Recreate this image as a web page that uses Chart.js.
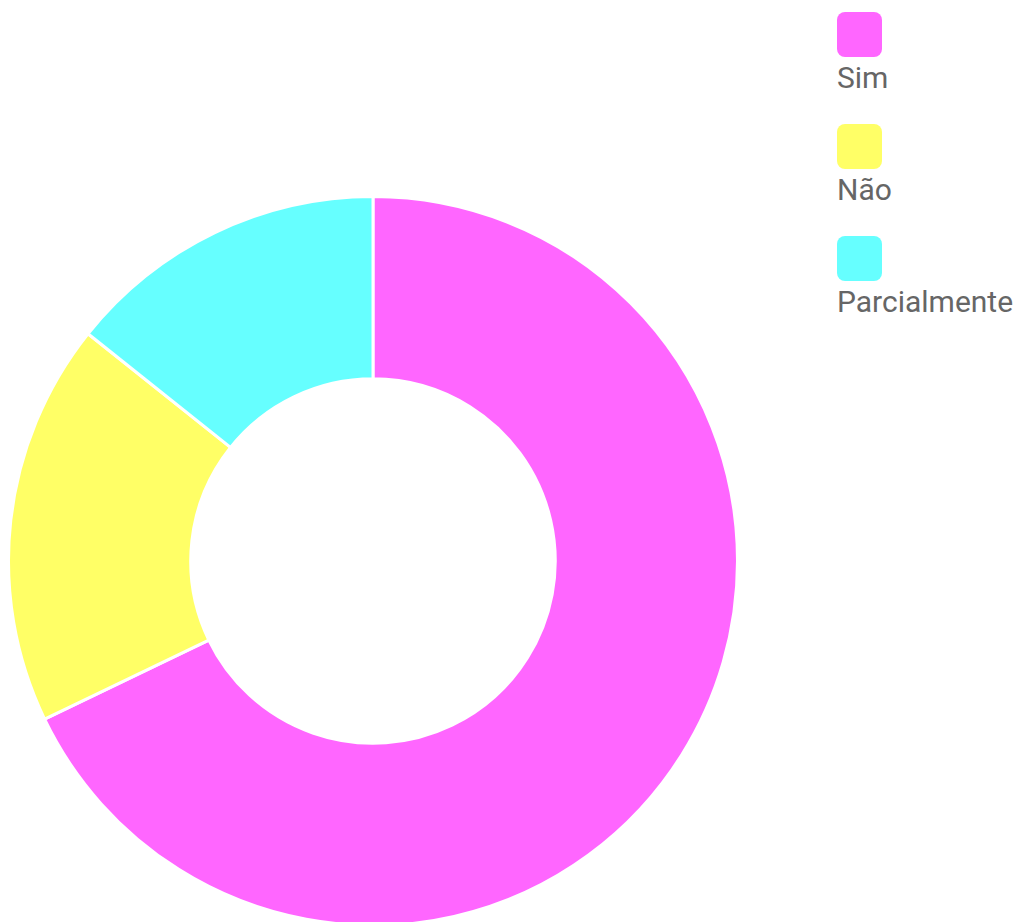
<!DOCTYPE html>
<html>
<head>
<meta charset="utf-8">
<script src="https://cdn.jsdelivr.net/npm/chart.js@4"></script>
<style>
  html, body { margin: 0; padding: 0; background: #fff; overflow: hidden; width: 1023px; height: 922px; }
  #wrap { position: absolute; left: 7px; top: 195px; width: 732px; height: 732px; }
  #legend { position: absolute; left: 837px; top: 12px; font-family: Roboto, "Noto Sans", sans-serif; color: #666; font-size: 30px; }
  .item { height: 112px; }
  .box { width: 45px; height: 45px; border-radius: 8px; }
  .lbl { margin-top: 6px; line-height: 30px; white-space: nowrap; }
</style>
</head>
<body>
<div id="wrap"><canvas id="c"></canvas></div>
<div id="legend"></div>
<script>
const categories = ["Sim", "Não", "Parcialmente"];
const values = [19, 5, 4];
const colors = ["#ff66ff", "#ffff66", "#66ffff"];

const chart = new Chart(document.getElementById('c'), {
  type: 'doughnut',
  data: {
    labels: categories,
    datasets: [{
      data: values,
      backgroundColor: colors,
      borderColor: '#ffffff',
      borderWidth: 3
    }]
  },
  options: {
    responsive: true,
    maintainAspectRatio: false,
    animation: false,
    cutout: '50%',
    layout: { padding: 0 },
    plugins: {
      legend: { display: false },
      tooltip: { enabled: false }
    }
  }
});

const legend = document.getElementById('legend');
categories.forEach((name, i) => {
  const item = document.createElement('div');
  item.className = 'item';
  const box = document.createElement('div');
  box.className = 'box';
  box.style.background = colors[i];
  const lbl = document.createElement('div');
  lbl.className = 'lbl';
  lbl.textContent = name;
  item.appendChild(box);
  item.appendChild(lbl);
  legend.appendChild(item);
});
</script>
</body>
</html>
